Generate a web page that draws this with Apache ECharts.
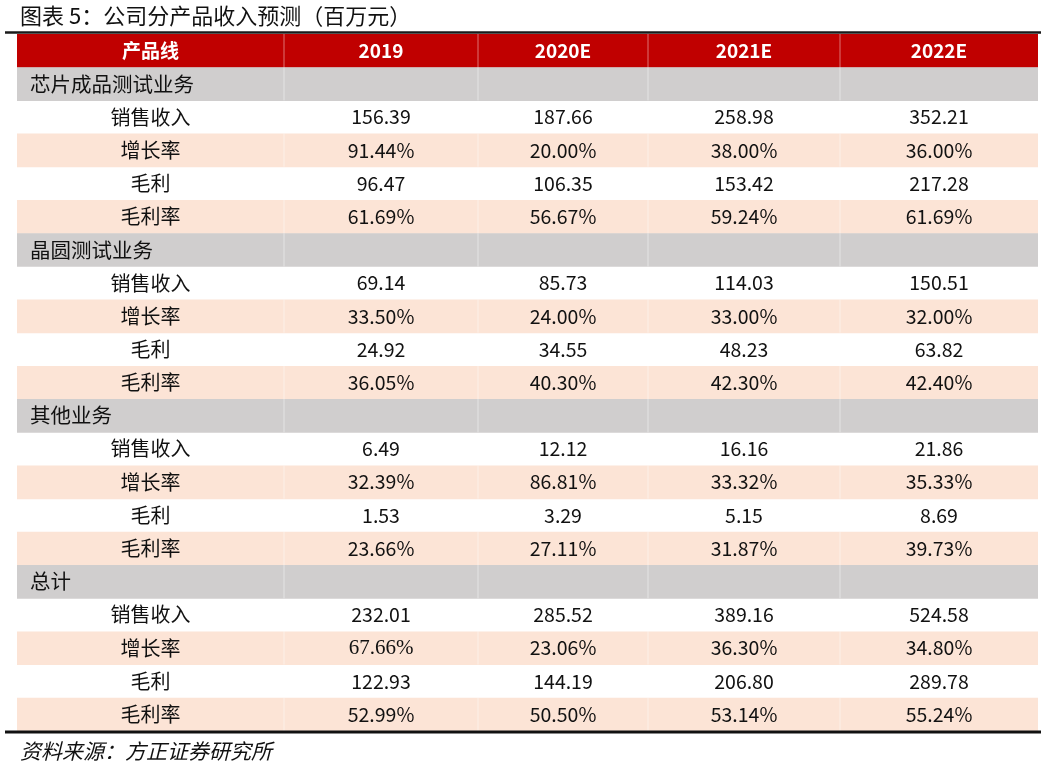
<!DOCTYPE html>
<html>
<head>
<meta charset="utf-8">
<title>公司分产品收入预测</title>
<script src="https://cdn.jsdelivr.net/npm/echarts@6/dist/echarts.min.js"></script>
<style>
  html, body { margin: 0; padding: 0; background: #fff; }
  #main { width: 1049px; height: 769px; }
</style>
</head>
<body>
<div id="main"></div>
<script>
// 表头与分组
var years = ['2019', '2020E', '2021E', '2022E'];
var sections = ['芯片成品测试业务', '晶圆测试业务', '其他业务', '总计'];
var metrics = ['销售收入', '增长率', '毛利', '毛利率'];
var pctMetric = [false, true, false, true];

// 芯片成品测试业务
var chipRevenue = [156.39, 187.66, 258.98, 352.21];
var chipGrowth = [91.44, 20.00, 38.00, 36.00];
var chipGross = [96.47, 106.35, 153.42, 217.28];
var chipMargin = [61.69, 56.67, 59.24, 61.69];

// 晶圆测试业务
var waferRevenue = [69.14, 85.73, 114.03, 150.51];
var waferGrowth = [33.50, 24.00, 33.00, 32.00];
var waferGross = [24.92, 34.55, 48.23, 63.82];
var waferMargin = [36.05, 40.30, 42.30, 42.40];

// 其他业务
var otherRevenue = [6.49, 12.12, 16.16, 21.86];
var otherGrowth = [32.39, 86.81, 33.32, 35.33];
var otherGross = [1.53, 3.29, 5.15, 8.69];
var otherMargin = [23.66, 27.11, 31.87, 39.73];

// 总计
var totalRevenue = [232.01, 285.52, 389.16, 524.58];
var totalGrowth = [67.66, 23.06, 36.30, 34.80];
var totalGross = [122.93, 144.19, 206.80, 289.78];
var totalMargin = [52.99, 50.50, 53.14, 55.24];

var sectionValues = [
  [chipRevenue, chipGrowth, chipGross, chipMargin],
  [waferRevenue, waferGrowth, waferGross, waferMargin],
  [otherRevenue, otherGrowth, otherGross, otherMargin],
  [totalRevenue, totalGrowth, totalGross, totalMargin]
];

// 列宽（版式，非数据）
var colEdges = [0, 267, 461, 631, 823, 1021];

var CJK = '"Noto Sans CJK SC", "Noto Sans", sans-serif';
var RED = '#C00000', GRAY = '#D0CECE', PEACH = '#FCE4D6';

// 组装行
var rows = [{ kind: 'header' }];
sections.forEach(function (s, si) {
  rows.push({ kind: 'section', label: s });
  metrics.forEach(function (m, mi) {
    rows.push({ kind: 'metric', label: m, values: sectionValues[si][mi], pct: pctMetric[mi], shaded: mi % 2 === 1 });
  });
});

var rowIdx = rows.map(function (r, i) { return String(i); });
var seriesData = rows.map(function (r, i) { return [0, i]; });

function fmt(v, pct) {
  return v.toFixed(2) + (pct ? '%' : '');
}

function txt(text, x, y, align, font, color) {
  return {
    type: 'text',
    style: {
      text: text, x: x, y: y,
      align: align, verticalAlign: 'middle',
      textAlign: align, textVerticalAlign: 'middle',
      font: font, fill: color
    }
  };
}

function renderItem(params, api) {
  var i = api.value(1);
  var row = rows[i];
  var h = api.size([0, 1])[1];
  var cy = api.coord([0, i])[1];
  var top = cy - h / 2;
  var xs = colEdges.map(function (e) { return api.coord([e, i])[0]; });
  var left = xs[0], right = xs[xs.length - 1];
  var children = [];

  var fill = null;
  if (row.kind === 'header') fill = RED;
  else if (row.kind === 'section') fill = GRAY;
  else if (row.shaded) fill = PEACH;
  if (fill) {
    children.push({ type: 'rect', shape: { x: left, y: top, width: right - left, height: h + 0.5 }, style: { fill: fill } });
    for (var k = 1; k < xs.length - 1; k++) {
      children.push({ type: 'line', shape: { x1: xs[k], y1: top, x2: xs[k], y2: top + h }, style: { stroke: 'rgba(255,255,255,0.45)', lineWidth: 1 } });
    }
  }

  if (row.kind === 'header') {
    children.push(txt('产品线', (xs[0] + xs[1]) / 2, cy, 'center', 'bold 19px ' + CJK, '#fff'));
    years.forEach(function (y, c) {
      children.push(txt(y, (xs[c + 1] + xs[c + 2]) / 2, cy, 'center', 'bold 19px ' + CJK, '#fff'));
    });
    children.push({ type: 'line', shape: { x1: left - 12, y1: top - 1.5, x2: right + 3, y2: top - 1.5 }, style: { stroke: '#1a1a1a', lineWidth: 2.5 } });
  } else if (row.kind === 'section') {
    children.push(txt(row.label, left + 13, cy, 'left', '20.5px ' + CJK, '#111'));
  } else {
    children.push(txt(row.label, (xs[0] + xs[1]) / 2, cy, 'center', '20px ' + CJK, '#111'));
    row.values.forEach(function (v, c) {
      var serif = (row.label === '增长率' && v === 67.66);
      var font = serif ? '21px "Liberation Serif", serif' : '19.5px ' + CJK;
      children.push(txt(fmt(v, row.pct), (xs[c + 1] + xs[c + 2]) / 2, cy, 'center', font, '#111'));
    });
  }

  if (i === rows.length - 1) {
    children.push({ type: 'line', shape: { x1: left - 12, y1: top + h + 1, x2: right + 3, y2: top + h + 1 }, style: { stroke: '#111', lineWidth: 3 } });
  }

  return { type: 'group', children: children };
}

var chart = echarts.init(document.getElementById('main'));
chart.setOption({
  animation: false,
  title: [{
    text: '图表 5：公司分产品收入预测（百万元）',
    left: 15, top: 0,
    textStyle: { fontFamily: CJK, fontSize: 22, fontWeight: 'normal', color: '#111' }
  }, {
    text: '资料来源：方正证券研究所',
    left: 15, top: 736,
    textStyle: { fontFamily: CJK, fontSize: 21, fontWeight: 'normal', fontStyle: 'italic', color: '#111' }
  }],
  grid: { left: 17, right: 11, top: 34, bottom: 38 },
  xAxis: { type: 'value', min: 0, max: colEdges[colEdges.length - 1], show: false },
  yAxis: { type: 'category', data: rowIdx, inverse: true, show: false },
  series: [{
    type: 'custom',
    clip: false,
    renderItem: renderItem,
    data: seriesData
  }]
});
</script>
</body>
</html>
